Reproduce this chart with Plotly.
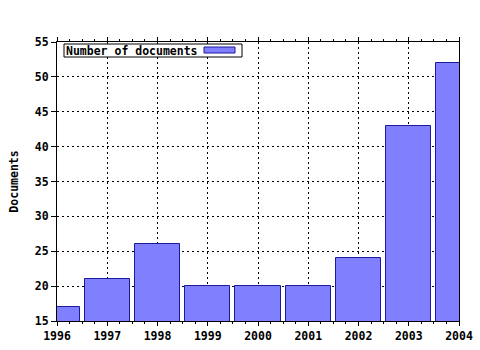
import plotly.graph_objects as go

years = [1996, 1997, 1998, 1999, 2000, 2001, 2002, 2003, 2004]
documents = [17, 21, 26, 20, 20, 20, 24, 43, 52]
series_name = "Number of documents"
y_title = "Documents"

FONT = dict(family="DejaVu Sans Mono", size=11.5, color="black", weight="bold")
BAR_FILL = "#8080ff"
BAR_LINE = "#1a1a9a"

fig = go.Figure()
fig.add_trace(go.Bar(
    x=years, y=documents, width=0.9,
    marker=dict(color=BAR_FILL, line=dict(color=BAR_LINE, width=1)),
    showlegend=False, name=series_name,
))

# manual legend (box, text, swatch) placed in plot-area paper coords
W, H = 402.0, 279.0
def px(x):
    return (x - 57) / W
def py(y):
    return (321 - y) / H

fig.add_shape(type="rect", xref="paper", yref="paper",
              x0=px(64), x1=px(242), y0=py(57), y1=py(44),
              line=dict(color="black", width=1), fillcolor="white", layer="above")
fig.add_shape(type="rect", xref="paper", yref="paper",
              x0=px(204), x1=px(235), y0=py(53), y1=py(47),
              line=dict(color=BAR_LINE, width=1), fillcolor=BAR_FILL, layer="above")
fig.add_annotation(text=series_name, xref="paper", yref="paper",
                   x=px(64), y=py(50.5), xanchor="left", yanchor="middle",
                   showarrow=False, font=FONT)

fig.update_layout(
    width=480, height=350,
    margin=dict(l=57, r=21, t=42, b=29, pad=0, autoexpand=False),
    paper_bgcolor="white", plot_bgcolor="white",
    bargap=0,
    xaxis=dict(
        range=[1996, 2004], tickmode="linear", tick0=1996, dtick=1,
        showline=True, linecolor="black", linewidth=1, mirror="ticks",
        ticks="outside", ticklen=4, tickcolor="black",
        minor=dict(dtick=0.25, ticks="outside", ticklen=2, tickcolor="black", showgrid=False),
        showgrid=True, gridcolor="black", gridwidth=1, griddash="2px,3px",
        tickfont=FONT, zeroline=False, automargin=False, ticklabelstandoff=0,
    ),
    yaxis=dict(
        range=[15, 55], tickmode="linear", tick0=15, dtick=5,
        showline=True, linecolor="black", linewidth=1, mirror=True,
        ticks="outside", ticklen=5, tickcolor="black",
        showgrid=True, gridcolor="black", gridwidth=1, griddash="2px,3px",
        tickfont=FONT, zeroline=False, automargin=False,
        title=dict(text=y_title, font=FONT, standoff=13),
    ),
)

fig.write_html("out.html")
